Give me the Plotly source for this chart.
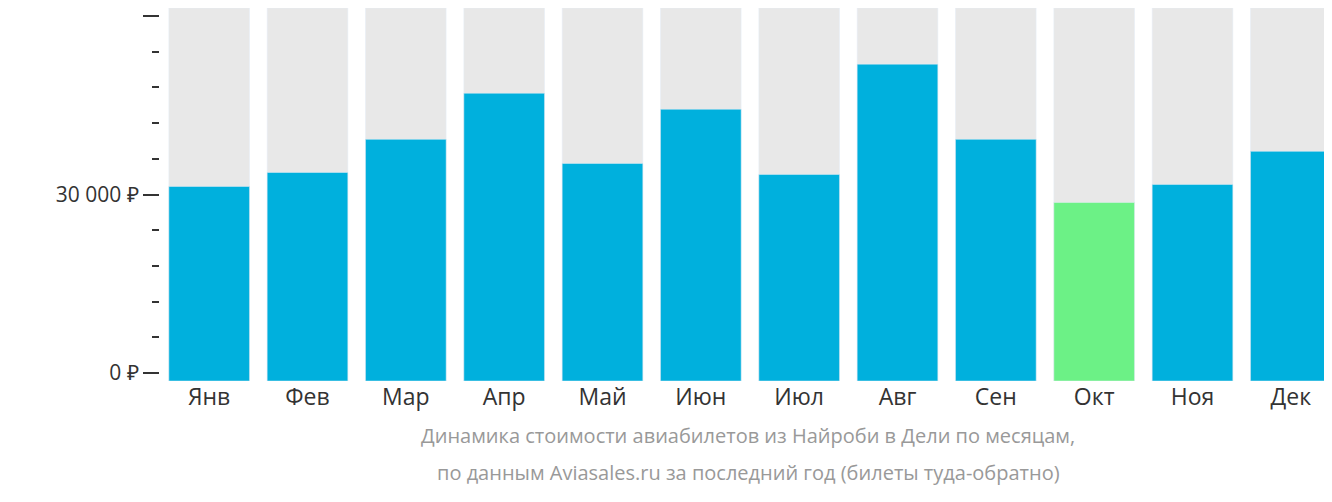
import plotly.graph_objects as go

months = ["Янв", "Фев", "Мар", "Апр", "Май", "Июн", "Июл", "Авг", "Сен", "Окт", "Ноя", "Дек"]
prices = [31350, 33700, 39270, 47020, 35220, 44330, 33370, 51910, 39270, 28650, 31690, 37250]
tick_vals = [0, 30000, 60000]
tick_text = ["0 ₽", "30 000 ₽", "60 000 ₽"]

# bars start a little below zero, like the original
BASE = -1350
TOP = 61350
cheapest = min(prices)
colors = ["#6cf186" if p == cheapest else "#00b0dd" for p in prices]

fig = go.Figure()
fig.add_trace(go.Bar(
    x=months, y=[TOP - BASE] * len(months), base=BASE,
    marker_color="#e8e8e8", hoverinfo="skip", showlegend=False,
))
fig.add_trace(go.Bar(
    x=months, y=[p - BASE for p in prices], base=BASE,
    marker_color=colors, showlegend=False,
))

fig.update_layout(
    barmode="overlay",
    bargap=0.18,
    width=1332, height=502,
    margin=dict(l=152, r=0, t=0, b=129, autoexpand=False),
    plot_bgcolor="white", paper_bgcolor="white",
    font=dict(family="Open Sans", size=22, color="#333"),
    xaxis=dict(showgrid=False, ticks="", tickfont=dict(size=23, color="#333")),
    yaxis=dict(
        range=[BASE, TOP], showgrid=False, zeroline=False,
        tickvals=tick_vals, ticktext=tick_text,
        ticks="outside", ticklen=16, tickwidth=2, tickcolor="#333",
        tickfont=dict(size=21, color="#333"),
        minor=dict(dtick=6000, tick0=0, ticks="outside", ticklen=7, tickwidth=2, tickcolor="#333"),
    ),
)

# captions under the plot area (plot height 373px)
captions = [
    "Динамика стоимости авиабилетов из Найроби в Дели по месяцам,",
    "по данным Aviasales.ru за последний год (билеты туда-обратно)",
]
for text, py in zip(captions, [443, 480]):
    fig.add_annotation(
        text=text, x=(740 - 152) / (1332 - 152), y=(373 - py) / 373,
        xref="paper", yref="paper", showarrow=False,
        font=dict(size=20, color="#999"),
    )

fig.write_html("out.html")
